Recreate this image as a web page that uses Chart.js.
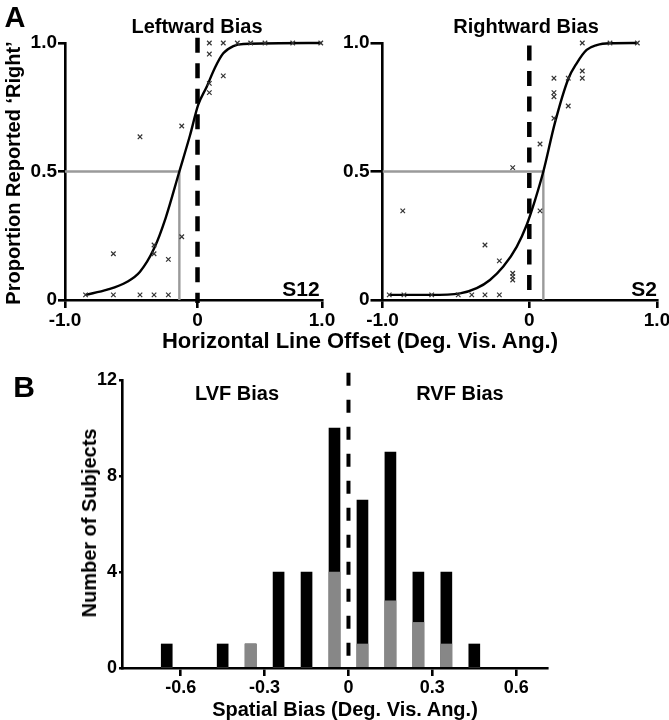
<!DOCTYPE html>
<html>
<head>
<meta charset="utf-8">
<script src="https://cdn.jsdelivr.net/npm/chart.js@4.4.0/dist/chart.umd.min.js"></script>
<style>
  html, body { margin: 0; padding: 0; background: #fff; }
  #fig { position: relative; width: 669px; height: 720px; overflow: hidden;
         font-family: 'Liberation Sans', Arial, sans-serif; font-weight: bold; color: #000; }
  .box { position: absolute; }
  .lbl { position: absolute; transform: translate(-50%, -50%); white-space: nowrap; line-height: 1; }
  .rot { transform: translate(-50%, -50%) rotate(-90deg); }
</style>
</head>
<body>
<div id="fig">
  <div class="box" style="left:0;top:0;width:340px;height:330px"><canvas id="chartLeft"></canvas></div>
  <div class="box" style="left:330px;top:0;width:339px;height:330px"><canvas id="chartRight"></canvas></div>
  <div class="box" style="left:0;top:350px;width:669px;height:370px"><canvas id="chartHist"></canvas></div>

  <div class="lbl" style="left:15px;top:17px;font-size:29px">A</div>
  <div class="lbl" style="left:197px;top:26px;font-size:20px">Leftward Bias</div>
  <div class="lbl" style="left:526px;top:26px;font-size:20px">Rightward Bias</div>
  <div class="lbl" style="left:301px;top:288px;font-size:21px">S12</div>
  <div class="lbl" style="left:644px;top:288px;font-size:21px">S2</div>
  <div class="lbl rot" style="left:13px;top:173px;font-size:20px">Proportion Reported ‘Right’</div>
  <div class="lbl" style="left:360px;top:341px;font-size:22px">Horizontal Line Offset (Deg. Vis. Ang.)</div>

  <div class="lbl" style="left:24px;top:387px;font-size:30px">B</div>
  <div class="lbl" style="left:237px;top:393px;font-size:20px">LVF Bias</div>
  <div class="lbl" style="left:460px;top:393px;font-size:20px">RVF Bias</div>
  <div class="lbl rot" style="left:89px;top:523px;font-size:20px">Number of Subjects</div>
  <div class="lbl" style="left:345px;top:709px;font-size:20px">Spatial Bias (Deg. Vis. Ang.)</div>
</div>

<script>
// ─── DATA ─────────────────────────────────────────────────────────────────────
// A: psychometric functions (x = horizontal offset, y = proportion 'right')
const offsetTicks = [-1, 0, 1];
const propTicks   = [0, 0.5, 1];

// S12 – leftward bias
const s12X = [-0.845, -0.635, -0.434, -0.328, -0.22,
              -0.635, -0.434, -0.328, -0.328, -0.22, -0.119, -0.119,
              0.095, 0.095, 0.095, 0.095, 0.207, 0.207, 0.32, 0.427, 0.542, 0.765, 0.99];
const s12Y = [0.02, 0.02, 0.02, 0.02, 0.02,
              0.18, 0.635, 0.214, 0.18, 0.158, 0.246, 0.677,
              1.0, 0.957, 0.843, 0.807, 1.0, 0.872, 1.0, 1.0, 1.0, 1.0, 1.0];
const s12FitX = [-0.845, -0.681, -0.534, -0.434, -0.328, -0.24, -0.137, -0.057,
                 0.006, 0.074, 0.141, 0.207, 0.288, 0.368, 0.998];
const s12FitY = [0.02, 0.04, 0.07, 0.11, 0.2, 0.32, 0.5, 0.64,
                 0.76, 0.83, 0.905, 0.96, 0.988, 0.996, 1.0];
const s12Threshold = -0.137;

// S2 – rightward bias
const s2X = [-0.954, -0.854, -0.665, -0.484, -0.392, -0.302, -0.204,
             -0.862, -0.302, -0.204, -0.113, -0.113, -0.113, -0.113,
             0.084, 0.084, 0.193, 0.193, 0.193, 0.193, 0.305, 0.305,
             0.415, 0.415, 0.415, 0.632, 0.846];
const s2Y = [0.02, 0.02, 0.02, 0.02, 0.02, 0.02, 0.02,
             0.347, 0.214, 0.152, 0.104, 0.091, 0.078, 0.515,
             0.347, 0.607, 0.707, 0.807, 0.791, 0.863, 0.755, 0.863,
             0.891, 0.863, 1.0, 1.0, 1.0];
const s2FitX = [-0.954, -0.676, -0.472, -0.358, -0.268, -0.177, -0.086, -0.018, 0.045,
                0.11, 0.201, 0.305, 0.371, 0.449, 0.528, 0.632, 0.846];
const s2FitY = [0.02, 0.02, 0.026, 0.046, 0.078, 0.13, 0.207, 0.292, 0.389,
                0.5, 0.69, 0.86, 0.921, 0.973, 0.992, 0.999, 1.0];
const s2Threshold = 0.11;

// B: histogram of spatial bias
const biasBins    = [-0.65, -0.45, -0.35, -0.25, -0.15, -0.05, 0.05, 0.15, 0.25, 0.35, 0.45];
const totalCounts = [1, 1, 1, 4, 4, 10, 7, 9, 4, 4, 1];
const grayCounts  = [0, 0, 1, 0, 0, 4, 1, 2.8, 1.9, 1, 0];
const biasTicks   = [-0.6, -0.3, 0, 0.3, 0.6];
const countTicks  = [0, 4, 8, 12];

// ─── DEFAULTS ─────────────────────────────────────────────────────────────────
Chart.defaults.font.family = "'Liberation Sans', Arial, sans-serif";
Chart.defaults.font.weight = 'bold';
Chart.defaults.color = '#000';
Chart.defaults.animation = false;

// Panel A axes in the original put the 0 tick off-centre (the -1..0 half is
// longer than 0..1), so the x scale is linear on each side of 0.
class SplitScale extends Chart.LinearScale {
  static id = 'split';
  getPixelForValue(value) {
    const z = this.options.zeroAt;
    const d = value < 0 ? z * (value - this.min) / -this.min
                        : z + (1 - z) * value / this.max;
    return this.getPixelForDecimal(d);
  }
}
Chart.register(SplitScale);

const pts = (xs, ys) => xs.map((x, i) => ({ x, y: ys[i] }));
const fmt = v => v === 0 ? '0' : v.toFixed(1);
const axisBorder = { color: '#000', width: 2.6 };

function axis(min, max, tickVals, o) {
  return {
    type: o.type || 'linear', min, max, offset: false, zeroAt: o.zeroAt,
    afterBuildTicks: s => { s.ticks = tickVals.map(v => ({ value: v })); },
    afterFit: s => {
      if (o.width  != null) s.width  = o.width;
      if (o.height != null) s.height = o.height;
      s.paddingLeft = s.paddingRight = s.paddingTop = s.paddingBottom = 0;
    },
    border: axisBorder,
    grid: { drawOnChartArea: false, color: '#000', lineWidth: 2.6, tickLength: o.tick, offset: false },
    ticks: { autoSkip: false, maxRotation: 0, padding: o.pad, font: { size: o.font }, callback: o.cb || fmt },
  };
}

// ─── A: PSYCHOMETRIC FUNCTIONS ───────────────────────────────────────────────
function psychChart(id, c) {
  return new Chart(document.getElementById(id), {
    type: 'scatter',
    data: { datasets: [
      {
        data: pts(c.x, c.y),
        pointStyle: 'crossRot', pointRadius: 3.2, borderWidth: 1.2,
        borderColor: '#333', backgroundColor: '#333',
        clip: false, order: 0,
      },
      {
        data: pts(c.fitX, c.fitY), showLine: true,
        borderColor: '#000', borderWidth: 2.4, pointRadius: 0,
        cubicInterpolationMode: 'monotone', clip: false, order: 1,
      },
      {
        data: [{ x: 0, y: c.dashTop }, { x: 0, y: c.dashBottom }], showLine: true,
        borderColor: '#000', borderWidth: 4.5, borderDash: [15, 10.5], pointRadius: 0,
        clip: false, order: 2,
      },
      {
        data: [{ x: -1, y: 0.5 }, { x: c.thr, y: 0.5 }, { x: c.thr, y: 0 }], showLine: true,
        borderColor: '#9a9a9a', borderWidth: 2.4, pointRadius: 0, order: 3,
      },
    ]},
    options: {
      responsive: true, maintainAspectRatio: false,
      layout: { padding: { left: 0, top: 43, right: c.padRight, bottom: 0 } },
      plugins: { legend: { display: false }, tooltip: { enabled: false } },
      scales: {
        x: axis(-1, 1, offsetTicks, { type: 'split', zeroAt: c.zeroAt, height: 30, tick: 8, pad: 1, font: 19 }),
        y: axis(0, 1, propTicks, { width: c.yWidth, tick: c.yTick, pad: 1, font: 19 }),
      },
    },
  });
}

psychChart('chartLeft', {
  x: s12X, y: s12Y, fitX: s12FitX, fitY: s12FitY, thr: s12Threshold,
  dashTop: 1.02, dashBottom: -0.012, padRight: 18, yWidth: 65, yTick: 7, zeroAt: 0.5156,
});
psychChart('chartRight', {
  x: s2X, y: s2Y, fitX: s2FitX, fitY: s2FitY, thr: s2Threshold,
  dashTop: 0.99, dashBottom: 0, padRight: 12, yWidth: 52.5, yTick: 12, zeroAt: 0.5348,
});

// ─── B: HISTOGRAM ────────────────────────────────────────────────────────────
new Chart(document.getElementById('chartHist'), {
  type: 'bar',
  data: { datasets: [
    {
      data: pts(biasBins, grayCounts),
      backgroundColor: '#878787', barThickness: 11, grouped: false, order: 0,
    },
    {
      data: pts(biasBins, totalCounts),
      backgroundColor: '#000', barThickness: 11, grouped: false, order: 1,
    },
    {
      type: 'line',
      data: [{ x: 0, y: 12.3 }, { x: 0, y: 0 }],
      borderColor: '#000', borderWidth: 4, borderDash: [13, 14], pointRadius: 0,
      clip: false, order: -1,
    },
  ]},
  options: {
    responsive: true, maintainAspectRatio: false,
    layout: { padding: { left: 0, top: 30, right: 122, bottom: 0 } },
    plugins: { legend: { display: false }, tooltip: { enabled: false } },
    scales: {
      x: axis(-0.81, 0.71, biasTicks, { height: 52, tick: 8, pad: 1, font: 18 }),
      y: axis(0, 12, countTicks, { width: 122, tick: 3, pad: 2, font: 18, cb: v => String(v) }),
    },
  },
});
</script>
</body>
</html>
